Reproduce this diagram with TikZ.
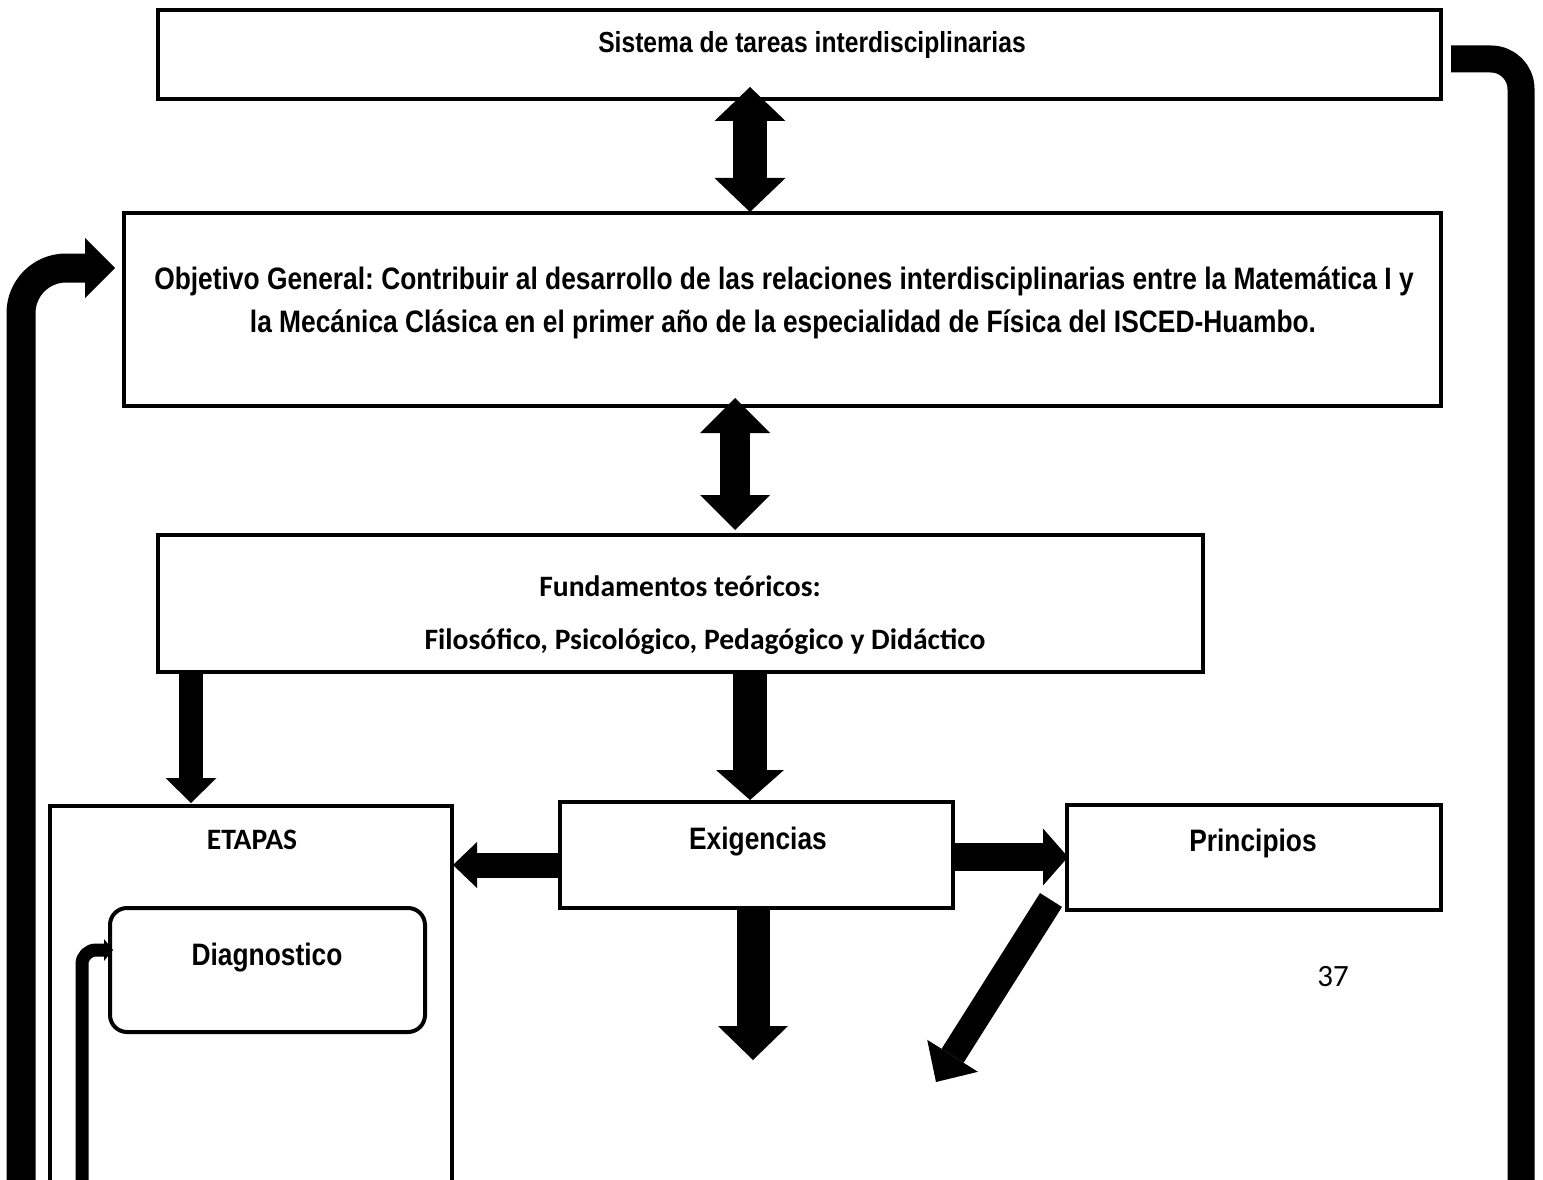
\documentclass[tikz,border=0pt]{standalone}
\usepackage{fontspec}
\setmainfont{Liberation Sans}
\newfontfamily\narfont[FakeStretch=0.85]{Liberation Sans}
\newfontfamily\calfont{Carlito}
\usetikzlibrary{arrows.meta}
\frenchspacing
\begin{document}
\begin{tikzpicture}[x=1pt,y=-1pt,
  bx/.style={draw, line width=4pt, inner sep=0pt, outer sep=0pt},
  nar/.style={font=\narfont\bfseries\fontsize{#1}{#1}\selectfont, inner sep=0pt, anchor=base},
  cal/.style={font=\calfont\bfseries\fontsize{29.6}{29.6}\selectfont, inner sep=0pt, anchor=base},
  blk/.style args={#1/#2/#3}{line width=#1pt, line join=round, -{Triangle[width=#2pt,length=#3pt,line width=0pt]}},
  dblk/.style args={#1/#2/#3}{line width=#1pt, {Triangle[width=#2pt,length=#3pt,line width=0pt]}-{Triangle[width=#2pt,length=#3pt,line width=0pt]}},
]
\useasboundingbox (0,0) rectangle (1543,1180);
\fill[white] (0,0) rectangle (1543,1180);
\clip (0,0) rectangle (1543,1180);

% boxes
\node[bx, minimum width=1283pt, minimum height=89pt] (sistema) at (799.5,54.5) {};
\node[bx, minimum width=1317pt, minimum height=193pt] (objetivo) at (782.5,309.5) {};
\node[bx, minimum width=1045pt, minimum height=137pt] (fund) at (680.5,603.5) {};
\node[bx, minimum width=402pt, minimum height=394pt] (etapas) at (251,1003) {};
\node[bx, minimum width=393pt, minimum height=106pt] (exig) at (756.5,855) {};
\node[bx, minimum width=374pt, minimum height=105pt] (princ) at (1254,857.5) {};
\node[bx, rounded corners=17pt, minimum width=315pt, minimum height=124pt] (diag) at (267.5,970) {};

% texts
\node[nar=29] (tsis) at (812,53) {Sistema de tareas interdisciplinarias};
\node[nar=31] (tobj1) at (784,289) {Objetivo General: Contribuir al desarrollo de las relaciones interdisciplinarias entre la Matemática I y};
\node[nar=31] (tobj2) at (783,332) {la Mecánica Clásica en el primer año de la especialidad de Física del ISCED-Huambo.};
\node[cal] (tfun1) at (680,596) {Fundamentos teóricos:};
\node[cal] (tfun2) at (705,649) {Filosófico, Psicológico, Pedagógico y Didáctico};
\node[cal] (teta) at (252,849) {ETAPAS};
\node[nar=31] (texi) at (758,849) {Exigencias};
\node[nar=31] (tpri) at (1253,851) {Principios};
\node[nar=31] (tdia) at (267,965) {Diagnostico};
\node[font=\calfont\fontsize{31}{31}\selectfont, inner sep=0pt, anchor=base] (tpage) at (1333,986) {37};

% free ends
\coordinate (dtip) at (936,1082);
\coordinate (etip) at (753,1060);
\coordinate (lstart) at (21,1200);
\coordinate (rend) at (1521,1200);
\coordinate (sstart) at (82,1200);

% connectors
\draw[dblk=34/71/34] ([xshift=-49.5pt,yshift=12pt]sistema.south) -- ([xshift=-32.5pt,yshift=1pt]objetivo.north);
\draw[dblk=30/70/35] ([xshift=-47.5pt,yshift=8pt]objetivo.south) -- ([xshift=54.5pt,yshift=5pt]fund.north);
\draw[blk=24/51/25] ([xshift=33pt]fund.south west) -- ([xshift=-60pt,yshift=3pt]etapas.north);
\draw[blk=34/68/30] ([xshift=69.5pt]fund.south) -- ([xshift=-6.5pt,yshift=2pt]exig.north);
\draw[blk=25/46/24] ([xshift=-2pt,yshift=-10pt]exig.west) -- ([xshift=1pt,yshift=-59pt]etapas.north east);
\draw[blk=28/57/25] ([yshift=-2pt]exig.east) -- ([xshift=1pt,yshift=0.5pt]princ.west);
\draw[blk=26/60/31] ([xshift=-16pt,yshift=10pt]princ.south west) -- (dtip);
\draw[blk=33/70/34] ([xshift=-3.5pt]exig.south) -- (etip);
\draw[blk=29/60/30, rounded corners=45pt] (lstart) |- ([xshift=-9pt,yshift=41.5pt]objetivo.west);
\draw[line width=27pt, rounded corners=30pt] ([xshift=10pt,yshift=-4.5pt]sistema.east) -| (rend);
\draw[blk=13/22/9, rounded corners=14pt] (sstart) |- ([xshift=3pt,yshift=20pt]diag.west);
\end{tikzpicture}
\end{document}
